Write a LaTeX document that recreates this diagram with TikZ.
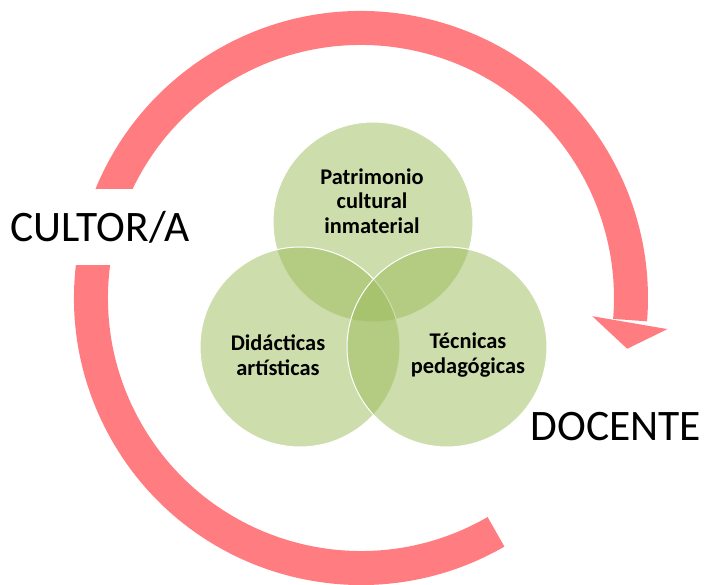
\documentclass[tikz,border=0pt]{standalone}
\usepackage{fontspec}
\setmainfont{Carlito}
\usepackage{tikz}
\definecolor{salmonred}{RGB}{255,124,128}
\definecolor{olivegreen}{RGB}{155,187,89}

\begin{document}
\begin{tikzpicture}[x=1pt, y=1pt]
		\tikzstyle{venn}=[circle, minimum size=200pt, inner sep=0pt, draw=white, line width=1pt, fill=olivegreen, fill opacity=0.5]
		\tikzstyle{lbl}=[align=center, font=\fontsize{22.4}{24.5}\selectfont\bfseries]
		\tikzstyle{role}=[font=\fontsize{43.5}{54}\selectfont]
		\useasboundingbox (0,0) rectangle (705,585);
		\coordinate (c) at (361,287);
		% cycle arrow
		\draw[salmonred, line width=34pt] ([shift={(c)}]-60:270pt) arc[start angle=-60, end angle=-364.7, radius=270pt];
		\fill[salmonred] ([shift={(c)}]-4.5:232pt) -- ([shift={(c)}]-10.8:271pt) -- ([shift={(c)}]-5.8:308pt) -- cycle;
		\node[venn] (pci) at (373,363) {};
		\node[venn] (dida) at (300,238) {};
		\node[venn] (tecn) at (447,238) {};
		\node[lbl] (pcitext) at (372,384) {Patrimonio\\cultural\\inmaterial};
		\node[lbl] (didatext) at (278,230) {Didácticas\\artísticas};
		\node[lbl] (tecntext) at (468,230) {Técnicas\\pedagógicas};
		\node[role, fill=white, minimum height=76pt, inner xsep=3pt] (cultor) at (100,358) {CULTOR/A};
		\node[role] (docente) at (616,158) {DOCENTE};
	\end{tikzpicture}
\end{document}
